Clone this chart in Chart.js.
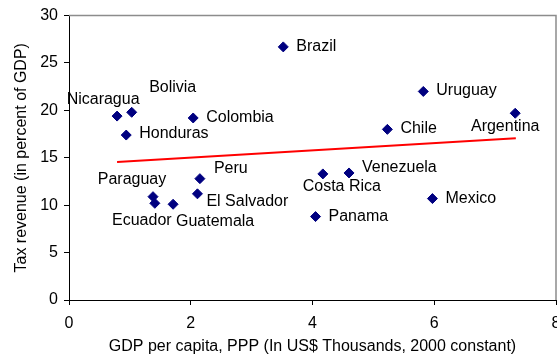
<!DOCTYPE html>
<html>
<head>
<meta charset="utf-8">
<script src="https://cdn.jsdelivr.net/npm/chart.js@4.4.1/dist/chart.umd.min.js"></script>
<style>
  html, body { margin: 0; padding: 0; background: #fff; overflow: hidden; }
  canvas { display: block; }
</style>
</head>
<body>
<canvas id="chart" width="580" height="356"></canvas>
<script>
// --- data ---
const countries = ["Nicaragua", "Bolivia", "Honduras", "Colombia", "Brazil", "Uruguay", "Argentina", "Chile",
  "Venezuela", "Costa Rica", "Mexico", "Panama", "Peru", "El Salvador", "Paraguay", "Ecuador", "Guatemala"];
const gdpPerCapita = [0.79, 1.03, 0.94, 2.04, 3.52, 5.82, 7.33, 5.23, 4.60, 4.17, 5.97, 4.05, 2.15, 2.11, 1.38, 1.41, 1.71];
const taxRevenue = [19.4, 19.8, 17.4, 19.2, 26.7, 22.0, 19.7, 18.0, 13.4, 13.3, 10.7, 8.8, 12.8, 11.2, 10.9, 10.2, 10.1];

// fitted line, endpoints at min / max GDP
const trendX = [0.79, 7.34];
const trendY = [14.56, 17.05];

// label placement relative to each marker: [dx, dy, align]
const labelPos = [
  [-14, -16, "center"], [41, -25, "center"], [13, -1, "left"], [13, 0, "left"], [13, 0, "left"],
  [13, -1, "left"], [-10, 13, "center"], [13, -1, "left"], [13, -5, "left"], [19, 13, "center"],
  [13, 0, "left"], [13, 0, "left"], [14, -10, "left"], [9, 8, "left"], [-21, -17, "center"],
  [-13, 17, "center"], [42, 17, "center"]
];

const FONT = "'Liberation Sans', Arial, sans-serif";

const points = countries.map((c, i) => ({ x: gdpPerCapita[i], y: taxRevenue[i] }));
const trend = trendX.map((x, i) => ({ x, y: trendY[i] }));

// country names next to the markers
const pointLabels = {
  id: "pointLabels",
  afterDatasetsDraw(chart) {
    const ctx = chart.ctx;
    const meta = chart.getDatasetMeta(0);
    ctx.save();
    ctx.font = "16px " + FONT;
    ctx.fillStyle = "#000";
    ctx.textBaseline = "middle";
    meta.data.forEach((el, i) => {
      const [dx, dy, align] = labelPos[i];
      ctx.textAlign = align;
      ctx.fillText(countries[i], el.x + dx, el.y + dy);
    });
    ctx.restore();
  }
};

// grey frame on top and right of the plot area
const frame = {
  id: "frame",
  afterDraw(chart) {
    const { ctx, chartArea: a } = chart;
    ctx.save();
    ctx.strokeStyle = "#8c8c8c";
    ctx.lineWidth = 1.5;
    ctx.beginPath();
    ctx.moveTo(a.left, a.top);
    ctx.lineTo(a.right, a.top);
    ctx.lineTo(a.right, a.bottom);
    ctx.stroke();
    ctx.restore();
  }
};

new Chart(document.getElementById("chart"), {
  type: "scatter",
  data: {
    datasets: [
      {
        data: points,
        pointStyle: "rectRot",
        pointRadius: 5,
        backgroundColor: "#000080",
        borderColor: "#000080",
        borderWidth: 1
      },
      {
        type: "line",
        data: trend,
        borderColor: "#ff0000",
        borderWidth: 2,
        pointRadius: 0,
        fill: false
      }
    ]
  },
  options: {
    responsive: false,
    animation: false,
    // canvas is wider than the window; the right edge (and the "8") get cut off
    layout: { padding: { top: 15, right: 24, left: 0, bottom: 0 } },
    plugins: { legend: { display: false }, tooltip: { enabled: false } },
    scales: {
      x: {
        type: "linear",
        min: 0, max: 8,
        ticks: { stepSize: 2, color: "#000", font: { family: FONT, size: 16 }, padding: 9 },
        grid: { drawOnChartArea: false, tickLength: 5, color: "#000" },
        border: { color: "#000", width: 1 },
        title: {
          display: true,
          text: "GDP per capita, PPP (In US$ Thousands, 2000 constant)",
          color: "#000",
          font: { family: FONT, size: 16 },
          padding: { top: 0, bottom: 0 }
        },
        afterFit(s) { s.height = 56; }
      },
      y: {
        min: 0, max: 30,
        ticks: { stepSize: 5, color: "#000", font: { family: FONT, size: 16 }, padding: 6 },
        grid: { drawOnChartArea: false, tickLength: 5, color: "#000" },
        border: { color: "#000", width: 1 },
        title: {
          display: true,
          text: "Tax revenue (in percent of GDP)",
          color: "#000",
          font: { family: FONT, size: 16 },
          padding: { top: 12, bottom: 0 }
        },
        afterFit(s) { s.width = 69; }
      }
    }
  },
  plugins: [pointLabels, frame]
});
</script>
</body>
</html>
